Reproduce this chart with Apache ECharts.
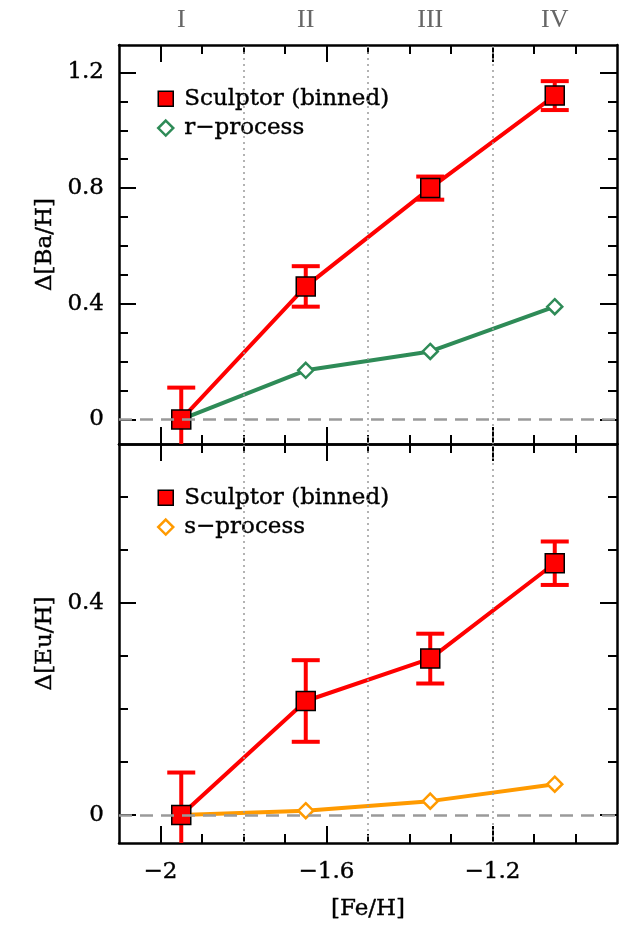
<!DOCTYPE html>
<html>
<head>
<meta charset="utf-8">
<script src="https://cdn.jsdelivr.net/npm/echarts@6/dist/echarts.min.js"></script>
<style>
  html, body { margin: 0; padding: 0; background: #fff; }
  #chart { width: 636px; height: 928px; }
</style>
</head>
<body>
<div id="chart"></div>
<script>
// [Fe/H] bin centres, bin boundaries and bin labels
const feH = [-1.95, -1.65, -1.35, -1.05];
const binEdges = [-1.8, -1.5, -1.2];
const binNames = ['I', 'II', 'III', 'IV'];

// Δ[Ba/H] panel
const baSculptor = [0.00, 0.46, 0.80, 1.12];
const baSculptorErr = [0.11, 0.07, 0.04, 0.05];
const baRprocess = [0.00, 0.17, 0.235, 0.39];

// Δ[Eu/H] panel
const euSculptor = [0.00, 0.215, 0.295, 0.475];
const euSculptorErr = [0.08, 0.077, 0.047, 0.041];
const euSprocess = [0.00, 0.008, 0.026, 0.058];

// tick positions
const xMajor = [-2, -1.6, -1.2];
const xMinor = [-2.0, -1.9, -1.8, -1.7, -1.6, -1.5, -1.4, -1.3, -1.2, -1.1, -1.0];
const baMajor = [0, 0.4, 0.8, 1.2];
const baMinor = [0, 0.1, 0.2, 0.3, 0.4, 0.5, 0.6, 0.7, 0.8, 0.9, 1.0, 1.1, 1.2];
const euMajor = [0, 0.4];
const euMinor = [0, 0.1, 0.2, 0.3, 0.4, 0.5, 0.6];

const FONT = 'DejaVu Serif';
const RED = '#ff0000';
const GREEN = '#2e8b57';
const ORANGE = '#ff9a00';
const GRAY = '#9a9a9a';

const X_RANGE = [-2.1, -0.9];
const BA_RANGE = [-0.085, 1.295];
const EU_RANGE = [-0.053, 0.70];

const chart = echarts.init(document.getElementById('chart'), null, { renderer: 'canvas' });

const fmtMinus = v => String(+v.toFixed(2)).replace('-', '\u2212');

function axisSet(dim, grid, range, major, minor, labels, nameOpt) {
  // four axes for one dimension of one grid: major and minor ticks on both sides
  const isX = dim === 'x';
  const sides = isX ? ['bottom', 'top'] : ['left', 'right'];
  const majorLen = 17;
  const minorLen = 9;
  const out = [];
  sides.forEach((pos, si) => {
    const lbl = labels[si];
    const major1 = {
      type: 'value', gridIndex: grid, position: pos, min: range[0], max: range[1],
      axisLine: { show: true, onZero: false, lineStyle: { color: '#000', width: 2.5 } },
      axisTick: { show: true, inside: true, length: majorLen, customValues: major,
                  lineStyle: { color: '#000', width: 2 } },
      axisLabel: lbl ? Object.assign({ show: true }, lbl) : { show: false },
      splitLine: { show: false }
    };
    if (si === 0 && nameOpt) Object.assign(major1, nameOpt);
    out.push(major1);
    out.push({
      type: 'value', gridIndex: grid, position: pos, min: range[0], max: range[1],
      axisLine: { show: false, onZero: false },
      axisTick: { show: true, inside: true, length: minorLen, customValues: minor,
                  lineStyle: { color: '#000', width: 2 } },
      axisLabel: { show: false },
      splitLine: { show: false }
    });
  });
  return out;
}

// slightly heavier black text
const ink = { color: '#000', textBorderColor: '#000', textBorderWidth: 0.4 };
const tickFont = Object.assign({ fontFamily: FONT, fontSize: 23 }, ink);
const nameFont = Object.assign({ fontFamily: FONT, fontSize: 23 }, ink);

const xAxes = [].concat(
  // upper panel: roman bin labels along the top
  axisSet('x', 0, X_RANGE, xMajor, xMinor, [null, {
    customValues: feH, margin: 12,
    formatter: v => binNames[feH.findIndex(c => Math.abs(c - v) < 1e-6)] || '',
    fontFamily: 'Liberation Serif', fontSize: 26, color: '#666'
  }]),
  // lower panel: [Fe/H] labels along the bottom
  axisSet('x', 1, X_RANGE, xMajor, xMinor, [Object.assign({
    customValues: xMajor, margin: 18, formatter: fmtMinus
  }, tickFont), null], {
    name: '[Fe/H]', nameLocation: 'middle', nameGap: 55, nameTextStyle: nameFont
  })
);

const yAxes = [].concat(
  axisSet('y', 0, BA_RANGE, baMajor, baMinor, [Object.assign({
    customValues: baMajor, margin: 15, formatter: fmtMinus
  }, tickFont), null], {
    name: '\u0394[Ba/H]', nameLocation: 'middle', nameGap: 52, nameRotate: 90,
    nameTextStyle: nameFont
  }),
  axisSet('y', 1, EU_RANGE, euMajor, euMinor, [Object.assign({
    customValues: euMajor, margin: 15, formatter: fmtMinus
  }, tickFont), null], {
    name: '\u0394[Eu/H]', nameLocation: 'middle', nameGap: 52, nameRotate: 90,
    nameTextStyle: nameFont
  })
);

// vertical error bars with caps, positioned through the axis scales
function errorBarSeries(xIdx, yIdx, ys, errs) {
  return {
    type: 'custom', xAxisIndex: xIdx, yAxisIndex: yIdx, z: 3, silent: true, clip: true,
    data: feH.map((x, i) => [x, ys[i] - errs[i], ys[i] + errs[i]]),
    renderItem: (params, api) => {
      const lo = api.coord([api.value(0), api.value(1)]);
      const hi = api.coord([api.value(0), api.value(2)]);
      const half = 14;
      const style = { stroke: RED, lineWidth: 4 };
      return {
        type: 'group',
        children: [
          { type: 'line', shape: { x1: lo[0], y1: lo[1], x2: hi[0], y2: hi[1] }, style },
          { type: 'line', shape: { x1: lo[0] - half, y1: lo[1], x2: lo[0] + half, y2: lo[1] }, style },
          { type: 'line', shape: { x1: hi[0] - half, y1: hi[1], x2: hi[0] + half, y2: hi[1] }, style }
        ]
      };
    }
  };
}

function guideLines() {
  return {
    silent: true, symbol: ['none', 'none'], label: { show: false },
    animation: false,
    data: [
      { yAxis: 0, lineStyle: { color: GRAY, width: 2.5, type: [13, 8] } }
    ].concat(binEdges.map(x => ({ xAxis: x, lineStyle: { color: GRAY, width: 1.5, type: [2, 4] } })))
  };
}

function modelSeries(name, xIdx, yIdx, ys, color) {
  return {
    name, type: 'line', xAxisIndex: xIdx, yAxisIndex: yIdx, z: 2,
    data: feH.map((x, i) => [x, ys[i]]),
    symbol: 'diamond', symbolSize: 15, showAllSymbol: true,
    itemStyle: { color: '#fff', borderColor: color, borderWidth: 2.5 },
    lineStyle: { color, width: 4 },
    markLine: guideLines()
  };
}

function sculptorSeries(xIdx, yIdx, ys) {
  return {
    name: 'Sculptor (binned)', type: 'line', xAxisIndex: xIdx, yAxisIndex: yIdx, z: 4,
    data: feH.map((x, i) => [x, ys[i]]),
    symbol: 'rect', symbolSize: 19, showAllSymbol: true,
    itemStyle: { color: RED, borderColor: '#000', borderWidth: 1.5 },
    lineStyle: { color: RED, width: 4 }
  };
}

const legendText = Object.assign({ fontFamily: FONT, fontSize: 23, lineHeight: 23,
                     padding: [0, 0, 0, 6] }, ink);
function legendFor(top, modelName, color) {
  return {
    left: 157, top, padding: 0, orient: 'vertical', itemWidth: 15, itemHeight: 15, itemGap: 6,
    selectedMode: false, textStyle: legendText,
    data: [
      { name: 'Sculptor (binned)', icon: 'rect',
        itemStyle: { color: RED, borderColor: '#000', borderWidth: 1.5 } },
      { name: modelName, icon: 'diamond',
        itemStyle: { color: '#fff', borderColor: color, borderWidth: 2.5 } }
    ]
  };
}

chart.setOption({
  animation: false,
  backgroundColor: '#fff',
  grid: [
    { left: 119, top: 45, width: 498, height: 399 },
    { left: 119, top: 444, width: 498, height: 399 }
  ],
  legend: [legendFor(87, 'r\u2212process', GREEN), legendFor(486, 's\u2212process', ORANGE)],
  xAxis: xAxes,
  yAxis: yAxes,
  series: [
    modelSeries('r\u2212process', 0, 0, baRprocess, GREEN),
    errorBarSeries(0, 0, baSculptor, baSculptorErr),
    sculptorSeries(0, 0, baSculptor),
    modelSeries('s\u2212process', 4, 4, euSprocess, ORANGE),
    errorBarSeries(4, 4, euSculptor, euSculptorErr),
    sculptorSeries(4, 4, euSculptor)
  ]
});
</script>
</body>
</html>
